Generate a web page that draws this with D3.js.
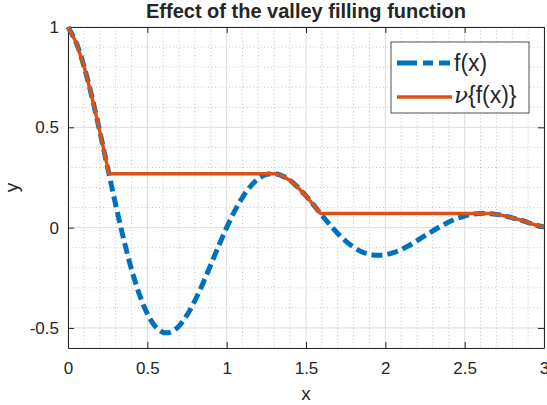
<!DOCTYPE html>
<html>
<head>
<meta charset="utf-8">
<script src="https://cdn.jsdelivr.net/npm/d3@7"></script>
<style>
  body { margin: 0; background: #fff; }
  text { font-family: "Liberation Sans", Arial, Helvetica, sans-serif; fill: #262626; }
</style>
</head>
<body>
<script>
// f(x), every 0.05
var fX = d3.range(0, 61).map(function (i) { return +(i * 0.05).toFixed(2); });
var fY = [1.00, 0.925, 0.806, 0.654, 0.481, 0.298, 0.116, -0.055, -0.207, -0.333,
          -0.429, -0.492, -0.522, -0.520, -0.490, -0.436, -0.364, -0.278, -0.185, -0.090,
          0.000, 0.082, 0.151, 0.206, 0.244, 0.265, 0.269, 0.258, 0.235, 0.200,
          0.158, 0.111, 0.062, 0.015, -0.029, -0.067, -0.097, -0.120, -0.133, -0.138,
          -0.135, -0.125, -0.109, -0.089, -0.065, -0.040, -0.016, 0.007, 0.028, 0.045,
          0.058, 0.067, 0.071, 0.070, 0.066, 0.059, 0.049, 0.038, 0.025, 0.012, 0.003];

// valley filled version
var nuX = [0, 0.05, 0.10, 0.15, 0.20, 0.25, 0.258, 1.30, 1.35, 1.40, 1.45, 1.50, 1.55, 1.591,
           2.60, 2.65, 2.70, 2.75, 2.80, 2.85, 2.90, 2.95, 3.00];
var nuY = [1.00, 0.925, 0.806, 0.654, 0.481, 0.298, 0.269, 0.269, 0.258, 0.235, 0.200, 0.158, 0.111, 0.071,
           0.071, 0.070, 0.066, 0.059, 0.049, 0.038, 0.025, 0.012, 0.003];

var xTicks = [0, 0.5, 1, 1.5, 2, 2.5, 3];
var yTicks = [-0.5, 0, 0.5, 1];
var xMinor = d3.range(0, 31).map(function (i) { return i / 10; });
var yMinor = d3.range(-6, 11).map(function (i) { return i / 10; });

var W = 547, H = 405;
var margin = { top: 27, right: 3, bottom: 57, left: 68 };
var width = W - margin.left - margin.right;
var height = H - margin.top - margin.bottom;

var svg = d3.select("body").append("svg")
    .attr("width", W)
    .attr("height", H)
    .append("g")
    .attr("transform", "translate(" + margin.left + "," + margin.top + ")");

var x = d3.scaleLinear().domain([0, 3]).range([0, width]);
var y = d3.scaleLinear().domain([-0.6, 1]).range([height, 0]);

function isMajor(v, ticks) {
    return ticks.some(function (t) { return Math.abs(t - v) < 1e-6; });
}

// minor grid
svg.append("g").selectAll("line")
    .data(xMinor.filter(function (v) { return !isMajor(v, xTicks); }))
    .enter().append("line")
      .attr("x1", function (d) { return x(d); })
      .attr("x2", function (d) { return x(d); })
      .attr("y1", 0).attr("y2", height)
      .attr("stroke", "#c4c4c4").attr("stroke-width", 1)
      .attr("stroke-dasharray", "1,2.5");
svg.append("g").selectAll("line")
    .data(yMinor.filter(function (v) { return !isMajor(v, yTicks); }))
    .enter().append("line")
      .attr("y1", function (d) { return y(d); })
      .attr("y2", function (d) { return y(d); })
      .attr("x1", 0).attr("x2", width)
      .attr("stroke", "#c4c4c4").attr("stroke-width", 1)
      .attr("stroke-dasharray", "1,2.5");

// major grid
svg.append("g").selectAll("line")
    .data(xTicks)
    .enter().append("line")
      .attr("x1", function (d) { return x(d); })
      .attr("x2", function (d) { return x(d); })
      .attr("y1", 0).attr("y2", height)
      .attr("stroke", "#dcdcdc").attr("stroke-width", 1);
svg.append("g").selectAll("line")
    .data(yTicks)
    .enter().append("line")
      .attr("y1", function (d) { return y(d); })
      .attr("y2", function (d) { return y(d); })
      .attr("x1", 0).attr("x2", width)
      .attr("stroke", "#dcdcdc").attr("stroke-width", 1);

// axes with inward ticks
var fmt = function (d) { return d3.format("")(d).replace("−", "-"); };
function styleAxis(g) {
    g.select(".domain").attr("stroke", "#262626");
    g.selectAll(".tick line").attr("stroke", "#262626");
    g.selectAll(".tick text")
        .style("font-family", "'Liberation Sans', Arial, sans-serif")
        .style("font-size", "17px")
        .attr("fill", "#262626");
}
svg.append("g").attr("transform", "translate(0," + height + ")")
    .call(d3.axisBottom(x).tickValues(xTicks).tickFormat(fmt).tickSizeInner(-6).tickSizeOuter(0).tickPadding(14))
    .call(styleAxis);
svg.append("g")
    .call(d3.axisLeft(y).tickValues(yTicks).tickFormat(fmt).tickSizeInner(-6).tickSizeOuter(0).tickPadding(9))
    .call(styleAxis);
svg.append("g")
    .call(d3.axisTop(x).tickValues(xTicks).tickFormat("").tickSizeInner(-6).tickSizeOuter(0))
    .call(styleAxis);
svg.append("g").attr("transform", "translate(" + width + ",0)")
    .call(d3.axisRight(y).tickValues(yTicks).tickFormat("").tickSizeInner(-6).tickSizeOuter(0))
    .call(styleAxis);

// lines
var fData = fX.map(function (v, i) { return [v, fY[i]]; });
var nuData = nuX.map(function (v, i) { return [v, nuY[i]]; });

var lineF = d3.line()
    .x(function (d) { return x(d[0]); })
    .y(function (d) { return y(d[1]); })
    .curve(d3.curveCatmullRom);
var lineNu = d3.line()
    .x(function (d) { return x(d[0]); })
    .y(function (d) { return y(d[1]); });

svg.append("path")
    .datum(fData)
    .attr("d", lineF)
    .attr("fill", "none")
    .attr("stroke", "#0072BD")
    .attr("stroke-width", 5)
    .attr("stroke-dasharray", "11,5");

svg.append("path")
    .datum(nuData)
    .attr("d", lineNu)
    .attr("fill", "none")
    .attr("stroke", "#D95319")
    .attr("stroke-width", 3.5)
    .attr("stroke-linejoin", "round");

// title and labels
svg.append("text")
    .attr("x", (147 + 465) / 2 - margin.left)
    .attr("y", -9)
    .attr("text-anchor", "middle")
    .style("font-size", "20px")
    .style("font-weight", "bold")
    .attr("fill", "#000")
    .text("Effect of the valley filling function");

svg.append("text")
    .attr("x", width / 2)
    .attr("y", height + 52)
    .attr("text-anchor", "middle")
    .style("font-size", "19px")
    .text("x");

svg.append("text")
    .attr("transform", "translate(-50," + (height / 2) + ") rotate(-90)")
    .attr("text-anchor", "middle")
    .style("font-size", "19px")
    .text("y");

// legend
var legend = svg.append("g").attr("transform", "translate(" + (391 - margin.left) + "," + (42 - margin.top) + ")");
legend.append("rect")
    .attr("width", 138).attr("height", 71)
    .attr("fill", "#fff")
    .attr("stroke", "#262626").attr("stroke-width", 0.8);
legend.append("line")
    .attr("x1", 6).attr("x2", 61).attr("y1", 21).attr("y2", 21)
    .attr("stroke", "#0072BD").attr("stroke-width", 5)
    .attr("stroke-dasharray", "20,6,10,6,11");
legend.append("line")
    .attr("x1", 6).attr("x2", 61).attr("y1", 55).attr("y2", 55)
    .attr("stroke", "#D95319").attr("stroke-width", 3.5);
legend.append("text")
    .attr("x", 63).attr("y", 28.5)
    .style("font-size", "23px")
    .text("f(x)");
var t2 = legend.append("text")
    .attr("x", 63).attr("y", 61)
    .style("font-size", "23px");
t2.append("tspan").style("font-family", "'DejaVu Serif', serif").style("font-style", "italic").text("ν");
t2.append("tspan").text("{f(x)}");
</script>
</body>
</html>
